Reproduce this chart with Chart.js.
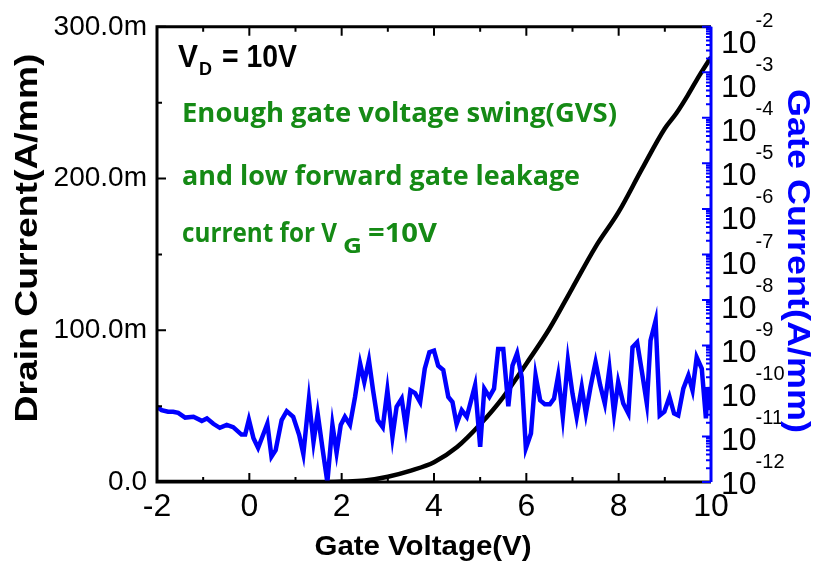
<!DOCTYPE html>
<html>
<head>
<meta charset="utf-8">
<script src="https://cdn.jsdelivr.net/npm/chart.js@4"></script>
<style>
  body { margin: 0; background: #fff; }
  #wrap { width: 819px; height: 565px; }
</style>
</head>
<body>
<div id="wrap"><canvas id="ivChart" width="819" height="565"></canvas></div>
<script>
// drain current (A/mm) vs gate voltage
const drainV = [-2, -1, 0, 1, 1.5, 2, 2.5, 3, 3.5, 4, 4.5, 5, 5.5, 6, 6.5, 7, 7.5, 8, 8.5, 9, 9.25, 9.5, 9.75, 10];
const drainI = [0, 0, 0, 0, 0, 0.0003, 0.001, 0.0035, 0.0075, 0.013, 0.023, 0.038, 0.056, 0.078, 0.101, 0.128, 0.155, 0.178, 0.206, 0.233, 0.243, 0.255, 0.268, 0.280];

// gate current (A/mm), log axis
const gateV = [-2.00, -1.90, -1.76, -1.65, -1.54, -1.39, -1.21, -1.03, -0.92, -0.78,
  -0.64, -0.49, -0.35, -0.17, -0.09, -0.01, 0.09, 0.19, 0.39, 0.48,
  0.57, 0.70, 0.81, 0.95, 1.08, 1.17, 1.29, 1.39, 1.48, 1.59,
  1.69, 1.80, 1.89, 1.98, 2.07, 2.18, 2.29, 2.40, 2.49, 2.59,
  2.68, 2.78, 2.89, 2.99, 3.10, 3.19, 3.30, 3.39, 3.49, 3.59,
  3.70, 3.80, 3.90, 4.00, 4.09, 4.20, 4.31, 4.40, 4.49, 4.60,
  4.71, 4.89, 5.00, 5.09, 5.20, 5.30, 5.39, 5.50, 5.61, 5.70,
  5.80, 5.90, 5.99, 6.10, 6.20, 6.30, 6.40, 6.51, 6.60, 6.69,
  6.79, 6.90, 7.00, 7.09, 7.20, 7.29, 7.39, 7.50, 7.60, 7.70,
  7.80, 7.90, 7.99, 8.10, 8.21, 8.30, 8.40, 8.51, 8.61, 8.69,
  8.80, 8.89, 8.99, 9.10, 9.20, 9.29, 9.40, 9.51, 9.60, 9.69,
  9.80, 9.89, 9.93, 9.98];
const gateI = [4.5e-11, 3.8e-11, 3.5e-11, 3.5e-11, 3.3e-11, 2.6e-11, 2.7e-11, 2.2e-11, 2.5e-11, 1.9e-11,
  1.55e-11, 1.8e-11, 1.6e-11, 1.1e-11, 1.1e-11, 2.35e-11, 9.1e-12, 5.6e-12, 1.9e-11, 3.6e-12,
  5.0e-12, 2.3e-11, 3.6e-11, 2.7e-11, 1.07e-11, 4.1e-12, 6.5e-11, 7.6e-12, 3.2e-11, 5.0e-12,
  1.0e-12, 1.8e-11, 4.4e-12, 1.8e-11, 2.7e-11, 1.8e-11, 7.4e-11, 4.0e-10, 1.57e-10, 4.7e-10,
  1.03e-10, 2.3e-11, 1.6e-11, 1.03e-10, 9.8e-12, 4.5e-11, 6.8e-11, 1.6e-11, 1.03e-10, 9.0e-11,
  5.7e-11, 3.1e-10, 7.1e-10, 7.7e-10, 3.6e-10, 2.9e-10, 7.4e-11, 5.7e-11, 1.86e-11, 3.8e-11,
  2.7e-11, 1.33e-10, 5.9e-12, 1.12e-10, 7.4e-11, 1.12e-10, 8.4e-10, 8.4e-10, 4.6e-11, 3.6e-10,
  6.7e-10, 2.0e-10, 5.5e-12, 1.16e-11, 2.2e-10, 6.2e-11, 5.1e-11, 5.1e-11, 6.8e-11, 2.2e-10,
  2.7e-11, 4.7e-10, 8.7e-11, 2.7e-11, 1.22e-10, 3.2e-11, 1.22e-10, 4.3e-10, 1.33e-10, 5.3e-11,
  3.1e-10, 3.2e-11, 1.57e-10, 5.3e-11, 3.2e-11, 9.1e-10, 1.17e-9, 2.4e-10, 5.3e-11, 1.28e-9,
  3.5e-9, 2.9e-11, 3.5e-11, 7.4e-11, 3.2e-11, 2.9e-11, 1.12e-10, 2.2e-10, 1.03e-10, 5.5e-10,
  3.1e-10, 2.5e-11, 1.22e-10, 3.8e-11];

// right axis tick exponents (10^n)
const gateExps = [-2, -3, -4, -5, -6, -7, -8, -9, -10, -11, -12];

const FONT = 'Liberation Sans, Arial, sans-serif';
const GREEN = '#158a15';

function fitText(ctx, s, x, y, w, align) {
    const m = ctx.measureText(s).width;
    ctx.save();
    ctx.translate(x, y);
    ctx.scale(w / m, 1);
    ctx.textAlign = align || 'left';
    ctx.fillText(s, 0, 0);
    ctx.restore();
}

// axes frame + inward ticks
const frame = {
    id: 'frame',
    afterDatasetsDraw(chart) {
        const { ctx, chartArea: a, scales } = chart;
        const x = scales.x, y = scales.y, y1 = scales.y1;
        ctx.save();
        ctx.lineCap = 'butt';
        ctx.strokeStyle = '#000';
        ctx.lineWidth = 2;
        ctx.beginPath();
        for (let v = -2; v <= 10; v++) {
            const px = x.getPixelForValue(v);
            const len = v % 2 === 0 ? 9 : 5;
            ctx.moveTo(px, a.bottom); ctx.lineTo(px, a.bottom - len);
            ctx.moveTo(px, a.top); ctx.lineTo(px, a.top + len);
        }
        for (let k = 0; k <= 6; k++) {
            const py = y.getPixelForValue(k * 0.05);
            ctx.moveTo(a.left, py); ctx.lineTo(a.left + (k % 2 === 0 ? 9 : 5), py);
        }
        ctx.stroke();
        ctx.lineWidth = 3;
        ctx.beginPath();
        ctx.moveTo(a.right, a.top); ctx.lineTo(a.left, a.top);
        ctx.lineTo(a.left, a.bottom); ctx.lineTo(a.right, a.bottom);
        ctx.stroke();

        // right log axis in blue
        ctx.strokeStyle = '#0000ff';
        ctx.lineWidth = 2;
        ctx.beginPath();
        gateExps.forEach(e => {
            const py = y1.getPixelForValue(Math.pow(10, e));
            ctx.moveTo(a.right, py); ctx.lineTo(a.right - 9, py);
            if (e > -12) {
                for (let m = 2; m <= 9; m++) {
                    const pm = y1.getPixelForValue(m * Math.pow(10, e - 1));
                    ctx.moveTo(a.right, pm); ctx.lineTo(a.right - 5, pm);
                }
            }
        });
        ctx.stroke();
        ctx.lineWidth = 3;
        ctx.beginPath();
        ctx.moveTo(a.right, a.top); ctx.lineTo(a.right, a.bottom);
        ctx.stroke();
        ctx.restore();
    },
    afterDraw(chart) {
        const { ctx, chartArea: a, scales } = chart;
        const y1 = scales.y1;
        ctx.save();
        ctx.textBaseline = 'alphabetic';

        // right tick labels 10^n
        ctx.fillStyle = '#000';
        gateExps.forEach(e => {
            const py = y1.getPixelForValue(Math.pow(10, e));
            const cy = a.top + 14 + (py - a.top) * 0.97;
            ctx.font = '32px ' + FONT;
            ctx.textAlign = 'left';
            ctx.fillText('10', 721, cy + 12);
            const w = ctx.measureText('10').width;
            ctx.font = '20px ' + FONT;
            ctx.fillText(String(e), 721 + w - 1, cy - 14);
        });

        // axis titles
        ctx.font = 'bold 32px ' + FONT;
        ctx.save();
        ctx.translate(37, 238);
        ctx.rotate(-Math.PI / 2);
        fitText(ctx, 'Drain Current(A/mm)', 0, 0, 369, 'center');
        ctx.restore();

        ctx.fillStyle = '#0000ff';
        ctx.font = 'bold 32px ' + FONT;
        ctx.save();
        ctx.translate(788, 261);
        ctx.rotate(Math.PI / 2);
        fitText(ctx, 'Gate Current(A/mm)', 0, 0, 344, 'center');
        ctx.restore();

        ctx.fillStyle = '#000';
        ctx.font = 'bold 28px ' + FONT;
        fitText(ctx, 'Gate Voltage(V)', 423, 555, 217, 'center');

        // annotations
        ctx.font = 'bold 31px ' + FONT;
        fitText(ctx, 'V', 178, 67, 20);
        ctx.font = 'bold 19px ' + FONT;
        fitText(ctx, 'D', 199, 75, 13);
        ctx.font = 'bold 31px ' + FONT;
        fitText(ctx, '= 10V', 222, 67, 75);

        ctx.fillStyle = GREEN;
        ctx.font = 'bold 26px Open Sans, ' + FONT;
        fitText(ctx, 'Enough gate voltage swing(GVS)', 182, 122, 435);
        fitText(ctx, 'and low forward gate leakage', 182, 185, 398);
        fitText(ctx, 'current for V', 182, 242, 155);
        fitText(ctx, '=10V', 368, 242, 69);
        ctx.font = 'bold 21px Open Sans, ' + FONT;
        fitText(ctx, 'G', 343, 253, 19);
        ctx.restore();
    }
};

const ctx = document.getElementById('ivChart').getContext('2d');
new Chart(ctx, {
    type: 'scatter',
    data: {
        datasets: [
            {
                label: 'Gate Current',
                data: gateV.map((v, i) => ({ x: v, y: gateI[i] })),
                yAxisID: 'y1',
                showLine: true,
                borderColor: '#0000ff',
                borderWidth: 4.5,
                pointRadius: 0,
                tension: 0,
                order: 1
            },
            {
                label: 'Drain Current',
                data: drainV.map((v, i) => ({ x: v, y: drainI[i] })),
                yAxisID: 'y',
                showLine: true,
                borderColor: '#000',
                borderWidth: 4.5,
                pointRadius: 0,
                cubicInterpolationMode: 'monotone',
                order: 2
            }
        ]
    },
    options: {
        responsive: false,
        animation: false,
        layout: { padding: { top: 25, left: 0, right: 0, bottom: 0 } },
        plugins: { legend: { display: false }, tooltip: { enabled: false } },
        scales: {
            x: {
                type: 'linear',
                min: -2, max: 10,
                grid: { display: false, drawTicks: false },
                border: { display: false },
                ticks: { stepSize: 2, color: '#000', padding: 6, font: { family: FONT, size: 32 } },
                afterFit: s => { s.height = 83; }
            },
            y: {
                type: 'linear',
                position: 'left',
                min: 0, max: 0.3,
                grid: { display: false, drawTicks: false },
                border: { display: false },
                ticks: {
                    stepSize: 0.1, color: '#000', padding: 10,
                    font: { family: FONT, size: 28 },
                    callback: v => v === 0 ? '0.0' : (v * 1000).toFixed(1) + 'm'
                },
                afterFit: s => { s.width = 157; }
            },
            y1: {
                type: 'logarithmic',
                position: 'right',
                min: 1e-12, max: 1e-2,
                grid: { display: false, drawTicks: false },
                border: { display: false },
                ticks: { display: false },
                afterFit: s => { s.width = 108; }
            }
        }
    },
    plugins: [frame]
});
</script>
</body>
</html>
